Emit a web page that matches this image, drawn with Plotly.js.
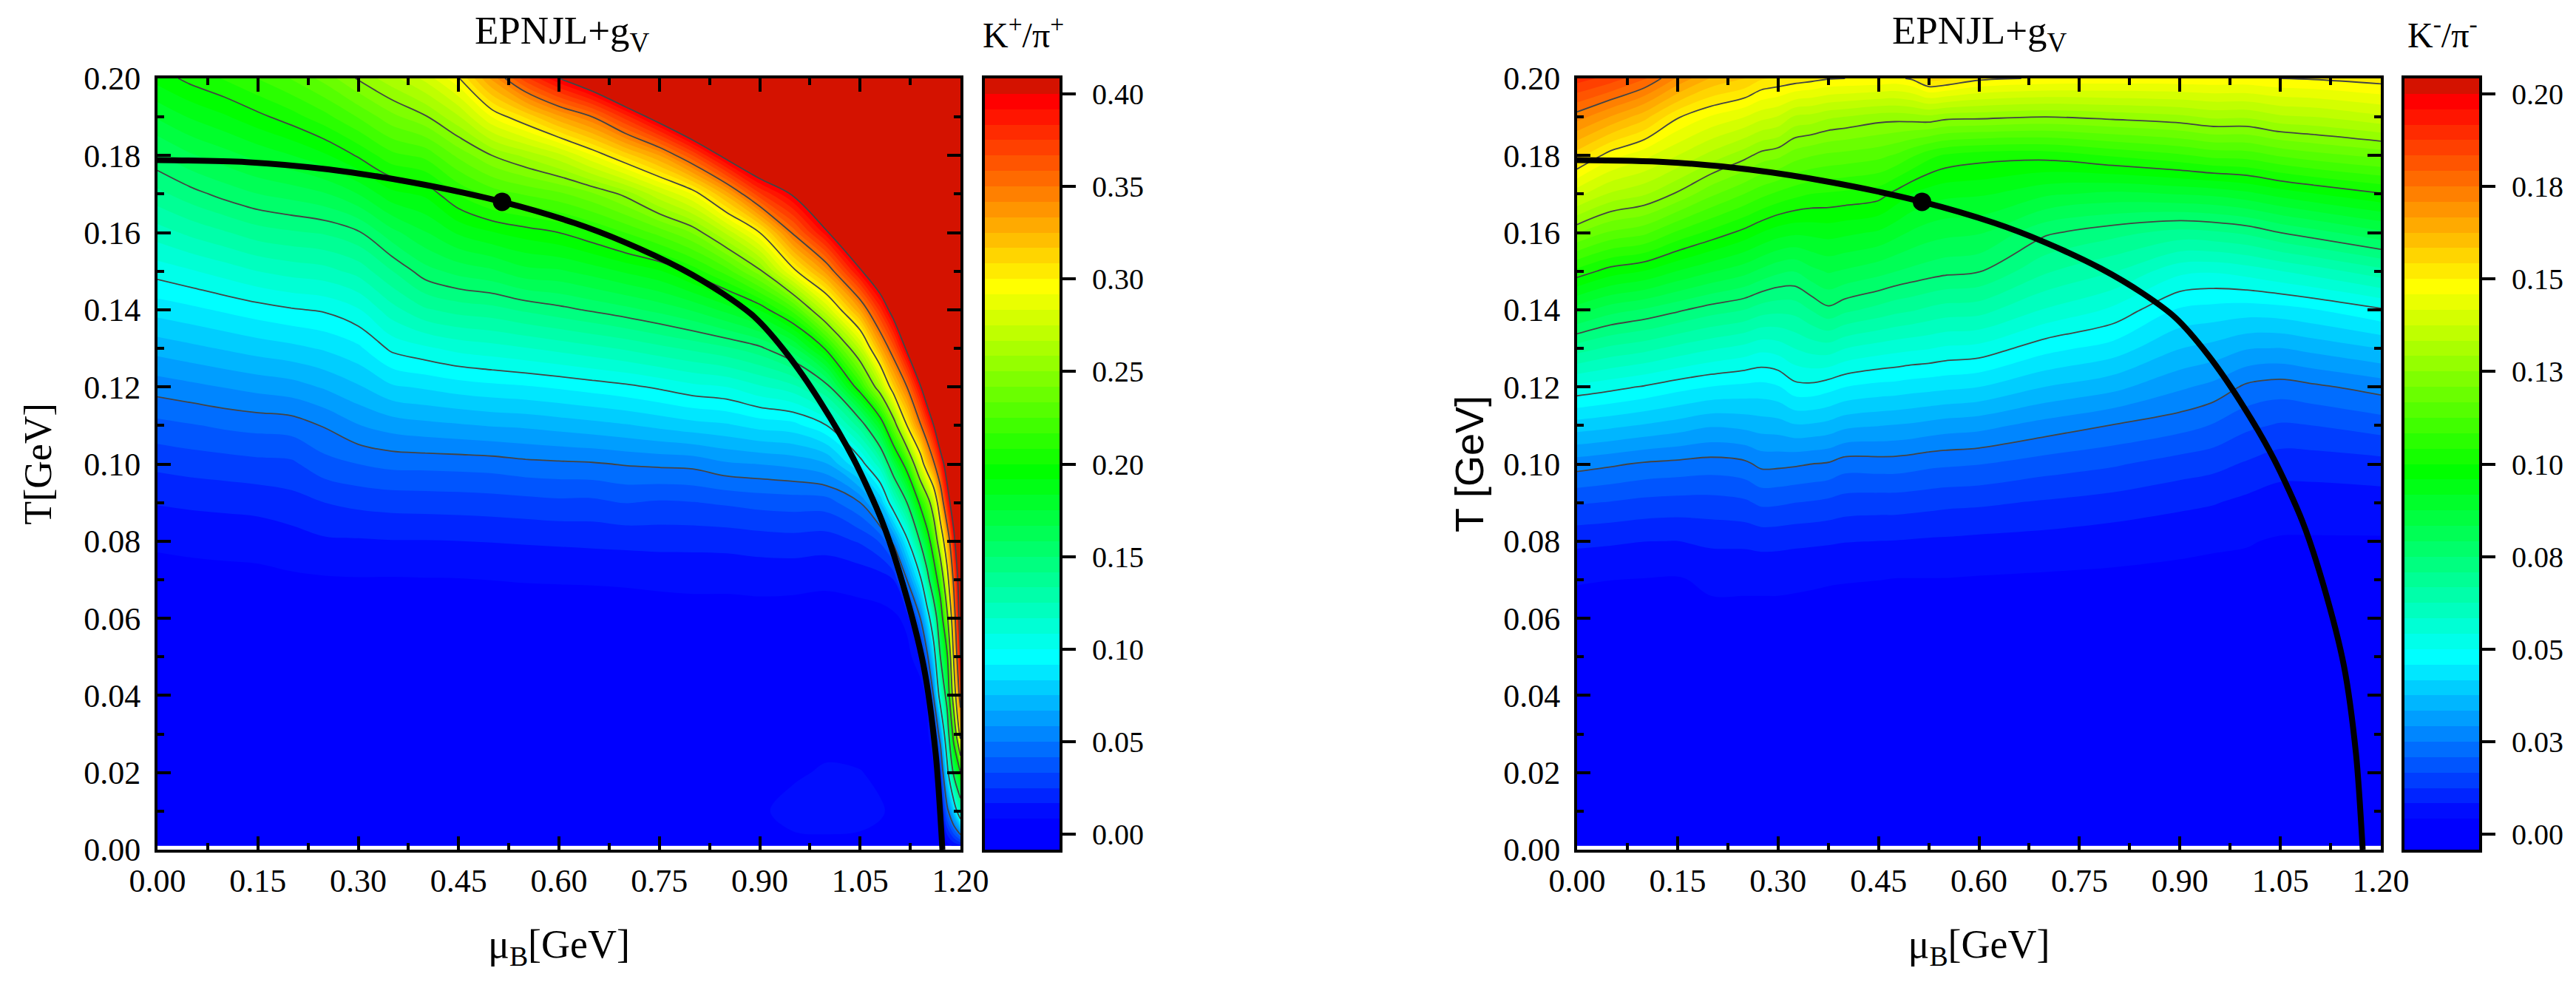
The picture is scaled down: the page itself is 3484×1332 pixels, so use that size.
<!DOCTYPE html>
<html><head><meta charset="utf-8">
<script src="https://cdn.plot.ly/plotly-3.0.1.min.js"></script>
<style>html,body{margin:0;padding:0;background:#fff}</style></head>
<body><div id="chart" style="width:3484px;height:1332px"></div>
<script>
const tA = [.001,.01,.02,.03,.04,.05,.06,.07,.08,.09,.10,.11,.12,.13,.14,.15,.16,.17,.18,.19,.20];
const muA = [0,.05,.10,.15,.20,.25,.30,.35,.40,.45,.50,.55,.60,.65,.70,.75,.80,.85,.90,.95,1.00,1.05,1.08,1.10,1.12,1.14,1.15,1.16,1.17,1.18,1.19,1.20];
const ratioPlus = [
[.002,.002,.002,.002,.003,.003,.004,.0055,.0095,.0172,.0271,.039,.0538,.070,.0867,.1036,.121,.139,.157,.176,.195],
[.002,.002,.002,.002,.003,.003,.004,.0058,.0102,.0182,.0286,.041,.0562,.0729,.0896,.1075,.1272,.1466,.1656,.1843,.203],
[.002,.002,.002,.002,.003,.003,.0042,.006,.0108,.0189,.0297,.0431,.0587,.0758,.0929,.1119,.1324,.153,.1716,.1904,.209],
[.002,.002,.002,.002,.003,.003,.0043,.0062,.0113,.0197,.031,.0445,.0611,.0787,.0962,.1167,.1378,.1582,.1778,.1974,.217],
[.002,.002,.002,.002,.003,.003,.0045,.0070,.0131,.0218,.0317,.0455,.0632,.0811,.0991,.1198,.1405,.1615,.1831,.2045,.2255],
[.003,.003,.003,.003,.003,.004,.005,.0075,.0155,.025,.0385,.0508,.0677,.0844,.1012,.122,.1427,.1658,.1902,.2137,.2365],
[.003,.003,.003,.003,.004,.004,.0055,.0078,.0158,.0271,.0417,.0579,.0739,.0898,.1075,.128,.1487,.1751,.2012,.2255,.2512],
[.003,.003,.003,.003,.004,.004,.0055,.0077,.0163,.0282,.0440,.0620,.082,.102,.1216,.1412,.1638,.1888,.214,.2388,.2637],
[.003,.003,.003,.003,.004,.004,.0055,.0079,.0163,.0286,.0443,.0642,.0846,.1067,.1321,.155,.1743,.1933,.2191,.2486,.2775],
[.003,.003,.003,.003,.004,.004,.0055,.008,.0166,.029,.0448,.0657,.0875,.111,.1366,.1613,.1847,.2092,.2355,.2655,.299],
[.003,.003,.003,.003,.004,.004,.0056,.0084,.017,.0296,.0455,.0673,.0894,.1134,.1387,.1652,.1911,.22,.25,.2917,.336],
[.003,.003,.003,.003,.004,.004,.0056,.0086,.0175,.0305,.0475,.0682,.0908,.1162,.1432,.1723,.1956,.2259,.2605,.3094,.372],
[.003,.003,.003,.003,.004,.004,.0057,.0087,.018,.0315,.0483,.0701,.0929,.1193,.1472,.1737,.20,.2312,.2722,.3312,.40],
[.003,.003,.0035,.0035,.004,.0045,.0057,.0088,.0185,.0313,.049,.072,.0954,.1227,.1514,.1787,.2075,.2401,.2912,.35,.425],
[.003,.0035,.0035,.0035,.004,.0045,.0058,.009,.019,.0337,.0507,.0742,.0979,.1263,.1558,.1847,.217,.2529,.3118,.3792,.46],
[.003,.004,.004,.004,.0045,.0048,.0059,.0094,.0195,.0323,.0517,.0771,.1015,.1309,.161,.1906,.2282,.2728,.3333,.4125,.47],
[.003,.0045,.0045,.0045,.0045,.005,.006,.0097,.0195,.033,.0525,.080,.1059,.1353,.1676,.2032,.2425,.2923,.3667,.45,.5],
[.003,.006,.0055,.005,.005,.005,.0058,.0098,.0198,.0345,.057,.082,.1083,.1402,.1778,.2205,.2685,.3278,.408,.46,.5],
[.004,.0078,.007,.0055,.005,.005,.0055,.0105,.021,.0362,.0585,.0863,.1154,.1474,.1922,.2471,.30,.3733,.44,.48,.5],
[.0075,.0095,.0078,.0065,.0055,.005,.0055,.0102,.0218,.037,.0606,.0885,.122,.1639,.2201,.2953,.3525,.4025,.46,.48,.5],
[.0075,.010,.0088,.007,.0055,.005,.0055,.0095,.0208,.0375,.066,.10,.1446,.2031,.275,.3375,.3969,.45,.47,.5,.5],
[.0075,.0095,.0085,.0065,.0055,.005,.006,.0104,.026,.05,.0924,.1383,.21,.27,.3333,.3964,.45,.48,.5,.5,.5],
[.007,.0088,.0075,.006,.005,.005,.006,.012,.0343,.0748,.1237,.1833,.2636,.3286,.3789,.43,.46,.48,.5,.5,.5],
[.005,.0075,.006,.005,.005,.005,.0065,.0167,.0537,.1127,.1675,.235,.3143,.3625,.4125,.46,.48,.5,.5,.5,.5],
[.004,.005,.005,.005,.005,.0055,.0105,.05,.0946,.15,.212,.30,.35,.405,.46,.48,.5,.5,.5,.5,.5],
[.004,.004,.004,.004,.004,.0135,.05,.0947,.1526,.2061,.2826,.3472,.3975,.45,.48,.5,.5,.5,.5,.5,.5],
[.004,.004,.004,.005,.0102,.0445,.0832,.1367,.1833,.2333,.3176,.3725,.425,.46,.48,.5,.5,.5,.5,.5,.5],
[.003,.004,.005,.021,.0516,.0839,.125,.1786,.2199,.2708,.3458,.40,.44,.47,.5,.5,.5,.5,.5,.5,.5],
[.003,.005,.025,.06,.1143,.15,.1794,.2189,.2757,.325,.3813,.4375,.46,.48,.5,.5,.5,.5,.5,.5,.5],
[.004,.0435,.0885,.1269,.1625,.1938,.2412,.2859,.3252,.3825,.4175,.45,.47,.5,.5,.5,.5,.5,.5,.5,.5],
[.010,.0778,.1571,.2143,.2742,.305,.33,.3567,.39,.4233,.45,.47,.5,.5,.5,.5,.5,.5,.5,.5,.5],
[.014,.125,.20,.3143,.3667,.40,.42,.43,.45,.47,.5,.5,.5,.5,.5,.5,.5,.5,.5,.5,.5]
];
const tB = [.001,.02,.04,.06,.07,.08,.09,.10,.11,.12,.13,.14,.15,.16,.17,.18,.19,.20];
const muB = [0,.05,.10,.15,.20,.25,.275,.30,.325,.35,.375,.40,.45,.475,.50,.525,.55,.60,.70,.80,.90,.95,1.00,1.05,1.10,1.20];
const ratioMinus = [
[.001,.001,.0015,.0028,.0044,.0093,.0171,.0269,.0397,.0531,.0688,.0853,.1028,.1213,.1389,.156,.1728,.1896],
[.001,.001,.0015,.0028,.0042,.0089,.0164,.0257,.0385,.0514,.0657,.081,.098,.1159,.1326,.1477,.1664,.1857],
[.001,.001,.0015,.0028,.004,.0084,.0155,.0244,.0371,.0496,.0639,.0787,.0957,.1136,.1297,.1431,.1599,.18],
[.001,.001,.0015,.0028,.0038,.0083,.0151,.0238,.0356,.0474,.0612,.0758,.0915,.1075,.1242,.1375,.1505,.1702],
[.001,.001,.0015,.003,.005,.0091,.0151,.0231,.0338,.0457,.0589,.0729,.088,.1029,.1176,.1318,.1453,.1621],
[.001,.001,.0015,.003,.005,.0092,.0159,.024,.0345,.0448,.0569,.0708,.0848,.0985,.1124,.1265,.1417,.1585],
[.001,.001,.0015,.003,.005,.0096,.0175,.0261,.0353,.0445,.0553,.0686,.0823,.0958,.1096,.1233,.1389,.1547],
[.001,.001,.0015,.003,.005,.0095,.0173,.026,.0357,.0454,.0561,.0678,.0801,.0936,.1073,.1219,.1372,.1536],
[.001,.001,.0015,.003,.0048,.0092,.0167,.0256,.0371,.0486,.0584,.0682,.0793,.0925,.1055,.1186,.1326,.1527],
[.001,.001,.0015,.003,.0046,.009,.0163,.025,.0369,.0488,.06,.0711,.0821,.0928,.1041,.1169,.1319,.1516],
[.001,.001,.0015,.003,.0044,.0088,.0157,.0245,.0361,.0475,.0605,.074,.0838,.0933,.1036,.1158,.1299,.1504],
[.001,.001,.0015,.003,.0043,.0085,.0148,.0228,.0344,.0459,.0584,.0719,.0828,.0926,.1031,.1152,.129,.15],
[.001,.001,.0015,.003,.0042,.0083,.0145,.023,.0335,.0445,.0564,.0694,.0807,.0911,.1018,.1137,.127,.1495],
[.001,.001,.0015,.003,.004,.0082,.0145,.023,.0331,.0442,.0556,.068,.0793,.089,.0987,.112,.1268,.1489],
[.001,.001,.0015,.003,.004,.008,.0142,.0225,.0327,.0435,.0549,.0671,.0781,.0869,.0956,.1089,.1273,.1507],
[.001,.001,.0015,.003,.004,.0078,.0139,.0218,.032,.0431,.0544,.0658,.0771,.0854,.0938,.1055,.128,.1559],
[.001,.001,.0015,.003,.004,.0077,.0135,.0215,.0313,.0426,.0535,.0648,.0762,.0845,.0927,.1035,.1266,.155],
[.001,.001,.0015,.0028,.0038,.0073,.0132,.021,.0306,.0417,.0528,.0642,.0753,.0838,.0923,.1019,.1262,.1512],
[.001,.001,.0015,.0026,.0035,.0068,.012,.0188,.0275,.0374,.0473,.0579,.0672,.0757,.0882,.1016,.125,.1493],
[.001,.001,.0015,.0025,.0033,.006,.0108,.0172,.0248,.0346,.044,.0534,.0628,.0723,.0864,.1047,.1264,.1489],
[.001,.001,.0015,.0024,.003,.0052,.0093,.0148,.0224,.0299,.0376,.0452,.0553,.0693,.0877,.1076,.1281,.1489],
[.001,.001,.0015,.0024,.003,.0047,.0086,.0138,.0205,.0279,.0361,.0443,.0546,.0701,.0885,.1097,.13,.149],
[.001,.001,.0015,.0024,.003,.0044,.0073,.012,.0176,.0241,.0336,.0437,.056,.0717,.0904,.1102,.1298,.149],
[.001,.001,.0015,.0022,.0028,.0038,.0063,.0101,.0162,.023,.0332,.0442,.0582,.075,.0932,.113,.1325,.15],
[.001,.001,.0015,.0022,.0028,.0038,.0062,.0102,.0167,.0242,.0347,.0456,.0603,.0775,.0955,.115,.1333,.1505],
[.001,.001,.0015,.0022,.0028,.0038,.0064,.011,.0186,.0267,.0376,.0494,.0652,.0824,.0995,.118,.1367,.1522]
];
const boundaryMu = [0,.133,.255,.378,.515,.623,.697,.782,.845,.893,.942,.991,1.04,1.083,1.114,1.145,1.163,1.173];
const boundaryT  = [.1788,.1783,.1764,.1731,.168,.1625,.1576,.1507,.1442,.138,.1283,.116,.1014,.0851,.0688,.0476,.0248,0];
const cepMu = [.515], cepT = [.168];
const rainbowStops = [[0,'#0000ff'],[.0204,'#0000ff'],[.0408,'#000cff'],[.2449,'#00ffff'],[.4898,'#00ff00'],[.7347,'#ffff00'],[.9796,'#ff0000'],[1,'#d41200']];
const ticksPlus = [0,.05,.10,.15,.20,.25,.30,.35,.40];
const labelsPlus = ['0.00','0.05','0.10','0.15','0.20','0.25','0.30','0.35','0.40'];
const ticksMinus = [0,.025,.05,.075,.10,.125,.15,.175,.20];
const labelsMinus = ['0.00','0.03','0.05','0.08','0.10','0.13','0.15','0.18','0.20'];

const W=3484,H=1332, TOP=106, BOT=1149;
const px=x=>x/W, py=y=>1-y/H;
const serif='Liberation Serif, Times New Roman, serif';
const LC='#444444';

function bandCenters(step){const a=[];for(let i=0;i<50;i++)a.push(-step/2+i*step);return a;}
function panel(mu,t,z,step,maxLevel,xa,ya,xb,yb){
  const centers=bandCenters(step);
  return [
   {type:'contour',x:mu,y:t,z:z,transpose:true,xaxis:xa,yaxis:ya,autocontour:false,showscale:false,
    contours:{coloring:'fill',start:0,end:maxLevel,size:step,showlines:false},
    line:{width:0,smoothing:1},colorscale:rainbowStops,hoverinfo:'skip'},
   {type:'contour',x:mu,y:t,z:z,transpose:true,xaxis:xa,yaxis:ya,autocontour:false,showscale:false,
    contours:{coloring:'none',start:step*6,end:maxLevel,size:step*6},
    line:{color:LC,width:1.8,smoothing:1},hoverinfo:'skip'},
   {type:'scatter',mode:'lines',x:boundaryMu,y:boundaryT,xaxis:xa,yaxis:ya,
    line:{color:'#000',width:8,shape:'spline',smoothing:.8},hoverinfo:'skip'},
   {type:'scatter',mode:'markers',x:cepMu,y:cepT,xaxis:xa,yaxis:ya,
    marker:{color:'#000',size:25},hoverinfo:'skip'},
   {type:'heatmap',x:[0],y:centers,z:centers.map(v=>[v]),xaxis:xb,yaxis:yb,
    zmin:centers[0],zmax:centers[49],colorscale:rainbowStops,showscale:false,hoverinfo:'skip'}
  ];
}
function axisX(left,right,anchor,titleText){
  return {domain:[px(left),px(right)],anchor:anchor,range:[0,1.2],tick0:0,dtick:.15,tickformat:'.2f',
    ticks:'inside',ticklen:18,tickwidth:4,tickcolor:'#000',linecolor:'#000',linewidth:4,mirror:'allticks',
    showgrid:false,zeroline:false,ticklabelstandoff:0,
    minor:{ticks:'inside',dtick:.075,tick0:0,ticklen:9,tickwidth:4,tickcolor:'#000',showgrid:false},
    tickfont:{family:serif,size:44,color:'#000'},
    title:{text:titleText,font:{family:serif,size:54,color:'#000'},standoff:43}};
}
function axisY(anchor,titleText,fam,size,standoff){
  return {domain:[py(BOT),py(TOP)],anchor:anchor,range:[0,.2],tick0:0,dtick:.02,tickformat:'.2f',
    ticks:'inside',ticklen:18,tickwidth:4,tickcolor:'#000',linecolor:'#000',linewidth:4,mirror:'allticks',
    showgrid:false,zeroline:false,ticklabelstandoff:10,
    minor:{ticks:'inside',dtick:.01,tick0:0,ticklen:9,tickwidth:4,tickcolor:'#000',showgrid:false},
    tickfont:{family:serif,size:44,color:'#000'},
    title:{text:titleText,font:{family:fam,size:size,color:'#000'},standoff:standoff}};
}
function barX(left,anchor){
  return {domain:[px(left),px(left+101)],anchor:anchor,range:[-.5,.5],showticklabels:false,ticks:'',
    showgrid:false,zeroline:false,linecolor:'#000',linewidth:4,mirror:true};
}
function barY(anchor,maxLevel,step,tv,tt){
  return {domain:[py(BOT),py(TOP)],anchor:anchor,side:'right',range:[-step,maxLevel+step],
    tickmode:'array',tickvals:tv,ticktext:tt,ticks:'outside',ticklen:18,tickwidth:4,tickcolor:'#000',
    showgrid:false,zeroline:false,linecolor:'#000',linewidth:4,mirror:true,ticklabelstandoff:14,
    tickfont:{family:serif,size:40,color:'#000'}};
}
function note(text,x,y,size){
  return {text:text,xref:'paper',yref:'paper',x:px(x),y:py(y),xanchor:'center',yanchor:'middle',showarrow:false,
    font:{family:serif,size:size,color:'#000'}};
}
const stepP=.05/6, stepM=.025/6;
const data=[...panel(muA,tA,ratioPlus,stepP,.40,'x','y','x3','y3'),
            ...panel(muB,tB,ratioMinus,stepM,.20,'x2','y2','x4','y4')];
const layout={width:W,height:H,margin:{l:0,r:0,t:0,b:0},paper_bgcolor:'#fff',plot_bgcolor:'#fff',showlegend:false,
  xaxis:axisX(213,1299,'y','μ<sub>B</sub>[GeV]'),
  yaxis:axisY('x','T[GeV]',serif,52,28),
  xaxis2:axisX(2133,3220,'y2','μ<sub>B</sub>[GeV]'),
  yaxis2:axisY('x2','T [GeV]','Liberation Sans, Arial, sans-serif',54,10),
  xaxis3:barX(1332,'y3'),
  yaxis3:barY('x3',.40,stepP,ticksPlus,labelsPlus),
  xaxis4:barX(3252,'y4'),
  yaxis4:barY('x4',.20,stepM,ticksMinus,labelsMinus),
  annotations:[note('EPNJL+g<sub>V</sub>',760,45,53),note('K<sup>+</sup>/π<sup>+</sup>',1384,44,48),
               note('EPNJL+g<sub>V</sub>',2677,45,53),note('K<sup>-</sup>/π<sup>-</sup>',3303,44,48)]};
Plotly.newPlot('chart',data,layout,{staticPlot:true,displayModeBar:false});
</script></body></html>
